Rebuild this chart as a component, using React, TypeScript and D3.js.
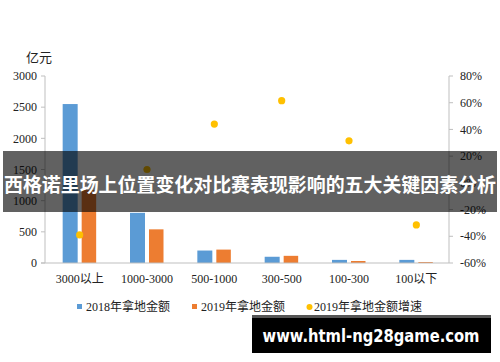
import React from "react";
import * as d3 from "d3";

const categories = ["3000以上", "1000-3000", "500-1000", "300-500", "100-300", "100以下"];
const amount2018 = [2550, 805, 200, 100, 50, 50];
const amount2019 = [1170, 540, 215, 115, 32, 16];
const growth2019 = [-0.39, 0.1, 0.44, 0.615, 0.315, -0.315];
const leftTicks = [0, 500, 1000, 1500, 2000, 2500, 3000];
const rightTicks = [-0.6, -0.4, -0.2, 0, 0.2, 0.4, 0.6, 0.8];
const legendItems = ["2018年拿地金额", "2019年拿地金额", "2019年拿地金额增速"];

const W = 500;
const H = 362;
const blue = "#5b9bd5";
const orange = "#ed7d31";
const yellow = "#ffc000";
const axisColor = "#bfbfbf";
const serif = "'Liberation Serif', 'Noto Sans CJK SC', serif";

export default function App() {
  const x = d3.scaleBand().domain(categories).range([45, 449]);
  const yL = d3.scaleLinear().domain([0, 3000]).range([263, 76]);
  const yR = d3.scaleLinear().domain([-0.6, 0.8]).range([263, 76]);
  const cx = (c) => x(c) + x.bandwidth() / 2 + 1;

  return (
    <svg
      width={W}
      height={H}
      style={{ position: "absolute", left: 0, top: 0, display: "block", background: "#fff" }}
    >
      {/* unit */}
      <text x={26} y={62} fontSize={13} fontFamily="'Noto Sans CJK SC', sans-serif" fill="#222">
        亿元
      </text>

      {/* left axis */}
      <line x1={45} x2={45} y1={yL(3000)} y2={yL(0)} stroke={axisColor} />
      {leftTicks.map((t) => (
        <g key={t}>
          <line x1={41} x2={45} y1={yL(t)} y2={yL(t)} stroke={axisColor} />
          <text x={37} y={yL(t)} dy="0.35em" textAnchor="end" fontSize={12} fontFamily={serif} fill="#222">
            {t}
          </text>
        </g>
      ))}

      {/* right axis */}
      <line x1={449} x2={449} y1={yR(0.8)} y2={yR(-0.6)} stroke={axisColor} />
      {rightTicks.map((t) => (
        <g key={t}>
          <line x1={449} x2={453} y1={yR(t)} y2={yR(t)} stroke={axisColor} />
          <text x={460} y={yR(t)} dy="0.35em" fontSize={12} fontFamily={serif} fill="#222">
            {Math.round(t * 100) + "%"}
          </text>
        </g>
      ))}

      {/* bars */}
      {categories.map((c, i) => (
        <g key={c}>
          <rect x={cx(c) - 17} width={15} y={yL(amount2018[i])} height={yL(0) - yL(amount2018[i])} fill={blue} />
          <rect x={cx(c) + 2} width={14.5} y={yL(amount2019[i])} height={yL(0) - yL(amount2019[i])} fill={orange} />
        </g>
      ))}

      {/* bottom axis */}
      <line x1={41} x2={449} y1={263} y2={263} stroke={axisColor} />
      {categories.map((c) => (
        <text key={c} x={cx(c)} y={283} textAnchor="middle" fontSize={12} fontFamily={serif} fill="#222">
          {c}
        </text>
      ))}

      {/* growth points */}
      {categories.map((c, i) => (
        <circle key={c} cx={cx(c)} cy={yR(growth2019[i])} r={3.6} fill={yellow} />
      ))}

      {/* legend */}
      <rect x={77} y={304} width={5} height={5} fill={blue} />
      <text x={86} y={310.5} fontSize={12} fontFamily={serif} fill="#222">{legendItems[0]}</text>
      <rect x={192} y={304} width={5} height={5} fill={orange} />
      <text x={201} y={310.5} fontSize={12} fontFamily={serif} fill="#222">{legendItems[1]}</text>
      <circle cx={309.5} cy={307} r={3} fill={yellow} />
      <text x={314} y={310.5} fontSize={12} fontFamily={serif} fill="#222">{legendItems[2]}</text>

      {/* title banner */}
      <rect x={3} y={151} width={494} height={61} fill="rgba(0,0,0,0.62)" />
      <text
        x={250}
        y={185}
        dy="0.35em"
        textAnchor="middle"
        fontSize={19}
        fontWeight="bold"
        fontFamily="'Noto Sans CJK SC', sans-serif"
        fill="#fff"
        textLength={492}
        lengthAdjust="spacingAndGlyphs"
      >
        西格诺里场上位置变化对比赛表现影响的五大关键因素分析
      </text>

      {/* watermark */}
      <rect x={252} y={315} width={239} height={38} fill="#000" />
      <rect x={252} y={315} width={239} height={3} fill="#555" />
      <text
        x={371}
        y={342}
        textAnchor="middle"
        fontSize={17}
        fontWeight="bold"
        fontFamily="'DejaVu Sans', sans-serif"
        fill="#fff"
        textLength={217}
        lengthAdjust="spacingAndGlyphs"
      >
        www.html-ng28game.com
      </text>
    </svg>
  );
}
